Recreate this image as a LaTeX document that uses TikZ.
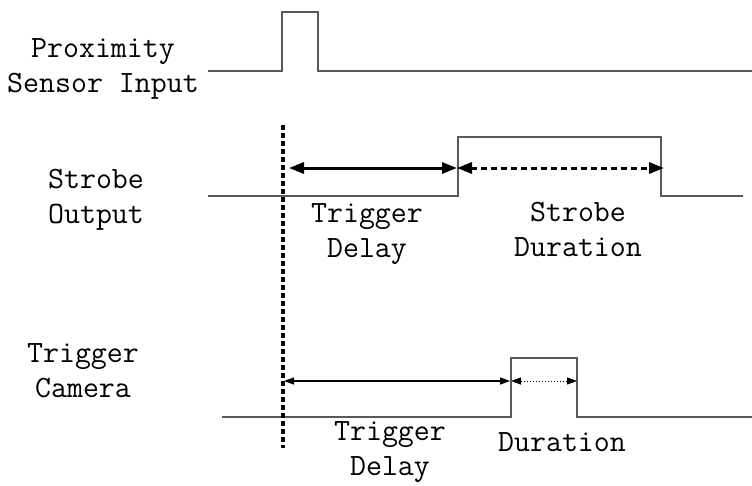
\documentclass[tikz,border=0pt]{standalone}
\usepackage{fontspec}
\usetikzlibrary{arrows.meta}
\begin{document}
\begin{tikzpicture}[x=1pt,y=-1pt,
  sig/.style={draw=black!65,line width=1.3pt},
  lbl/.style={font=\ttfamily\fontsize{31}{35}\selectfont,align=center,inner sep=0pt},
  thickarr/.style={line width=3pt,{Triangle[length=15pt,width=11pt]}-{Triangle[length=15pt,width=11pt]}},
  thinarr/.style={line width=1.3pt,{Triangle[length=10pt,width=7pt]}-{Triangle[length=10pt,width=7pt]}},
  marker/.style={line width=3.5pt,dash pattern=on 4.5pt off 3.5pt}]
\useasboundingbox (0,0) rectangle (752,485);
% coordinates
\coordinate (p0) at (208,71); \coordinate (p1) at (282,71); \coordinate (p2) at (282,12);
\coordinate (p3) at (318,12); \coordinate (p4) at (318,71); \coordinate (p5) at (752,71);
\coordinate (s0) at (208,196); \coordinate (s1) at (458,196); \coordinate (s2) at (458,137);
\coordinate (s3) at (661,137); \coordinate (s4) at (661,196); \coordinate (s5) at (743,196);
\coordinate (c0) at (222,417); \coordinate (c1) at (511,417); \coordinate (c2) at (511,358);
\coordinate (c3) at (577,358); \coordinate (c4) at (577,417); \coordinate (c5) at (752,417);
\coordinate (mt) at (283,125); \coordinate (mb) at (283,448);
\coordinate (a1) at (289,168); \coordinate (a2) at (457,168); \coordinate (a3) at (664,168);
\coordinate (b1) at (284,381); \coordinate (b2) at (510,381); \coordinate (b3) at (577,381);
% signals
\draw[sig] (p0) -- (p1) -- (p2) -- (p3) -- (p4) -- (p5);
\draw[sig] (s0) -- (s1) -- (s2) -- (s3) -- (s4) -- (s5);
\draw[sig] (c0) -- (c1) -- (c2) -- (c3) -- (c4) -- (c5);
% marker line
\draw[marker] (mt) -- (mb);
% arrows
\draw[thickarr] (a1) -- (a2);
\draw[thickarr,dash pattern=on 6pt off 4pt] (a2) -- (a3);
\draw[thinarr] (b1) -- (b2);
\draw[thinarr,line width=1pt,dash pattern=on 1.5pt off 1.5pt] (c2 |- b2) -- (b3);
% labels
\node[lbl] (lp) at (103,69) {Proximity\\Sensor Input};
\node[lbl] (ls) at (96,200) {Strobe\\Output};
\node[lbl] (lc) at (83,371) {Trigger\\Camera};
\node[lbl] (ltd1) at (367,234) {Trigger\\Delay};
\node[lbl] (lsd) at (578,229) {Strobe\\Duration};
\node[lbl] (ltd2) at (390,452) {Trigger\\Delay};
\node[lbl] (ld) at (562,442) {Duration};
\end{tikzpicture}
\end{document}
